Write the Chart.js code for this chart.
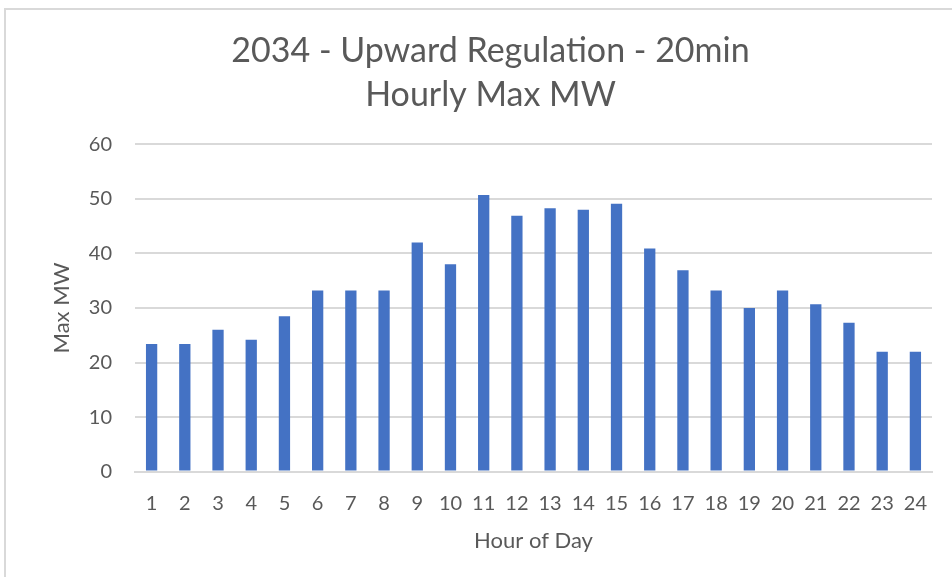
<!DOCTYPE html>
<html>
<head>
<meta charset="utf-8">
<script src="https://cdn.jsdelivr.net/npm/chart.js@4.4.1/dist/chart.umd.min.js"></script>
<style>
  html, body { margin: 0; padding: 0; background: #fff; }
  #wrap { position: relative; width: 952px; height: 577px; }
  #frame {
    position: absolute; left: 4px; top: 8px; right: -2px; bottom: -2px;
    border-top: 2px solid #d9d9d9; border-left: 2px solid #d9d9d9;
  }
  canvas { position: absolute; left: 0; top: 0; }
</style>
</head>
<body>
<div id="wrap">
  <div id="frame"></div>
  <canvas id="chart" width="952" height="577"></canvas>
</div>
<script>
const hours = ['1', '2', '3', '4', '5', '6', '7', '8', '9', '10', '11', '12',
  '13', '14', '15', '16', '17', '18', '19', '20', '21', '22', '23', '24'];
const maxMW = [23.4, 23.4, 26.0, 24.2, 28.5, 33.2, 33.2, 33.2, 42.0, 38.0, 50.7, 46.9,
  48.3, 48.0, 49.1, 40.9, 36.9, 33.2, 30.0, 33.2, 30.7, 27.3, 22.0, 22.0];
const titleLines = ['2034 - Upward Regulation - 20min', 'Hourly Max MW'];

const textColor = '#595959';
const fontFamily = 'Lato, "Open Sans", sans-serif';

const ctx = document.getElementById('chart').getContext('2d');
const chart = new Chart(ctx, {
  type: 'bar',
  data: {
    labels: hours,
    datasets: [{
      label: 'Max MW',
      data: maxMW,
      backgroundColor: '#4472c4',
      categoryPercentage: 1.0,
      barPercentage: 0.34
    }]
  },
  options: {
    responsive: false,
    animation: false,
    layout: { padding: { left: 49, right: 20, top: 29, bottom: 23 } },
    plugins: {
      legend: { display: false },
      tooltip: { enabled: false },
      title: {
        display: true,
        text: titleLines,
        color: textColor,
        font: { family: fontFamily, size: 34, weight: 'normal', lineHeight: 1.3 },
        padding: { top: 0, bottom: 27 }
      }
    },
    scales: {
      x: {
        grid: { display: false },
        border: { color: '#d9d9d9', width: 2 },
        ticks: { color: textColor, font: { family: fontFamily, size: 20 }, maxRotation: 0, padding: 12 },
        title: {
          display: true,
          text: 'Hour of Day',
          color: textColor,
          font: { family: fontFamily, size: 22 },
          padding: { top: 0, bottom: 0 }
        }
      },
      y: {
        min: 0,
        max: 60,
        ticks: { stepSize: 10, color: textColor, font: { family: fontFamily, size: 20 }, padding: 23 },
        grid: { color: '#d9d9d9', lineWidth: 2, drawTicks: false },
        border: { display: false },
        title: {
          display: true,
          text: 'Max MW',
          color: textColor,
          font: { family: fontFamily, size: 22 },
          padding: { top: 0, bottom: 4 }
        },
        afterFit: function (scale) { scale.width = 86; }
      }
    }
  }
});
</script>
</body>
</html>
